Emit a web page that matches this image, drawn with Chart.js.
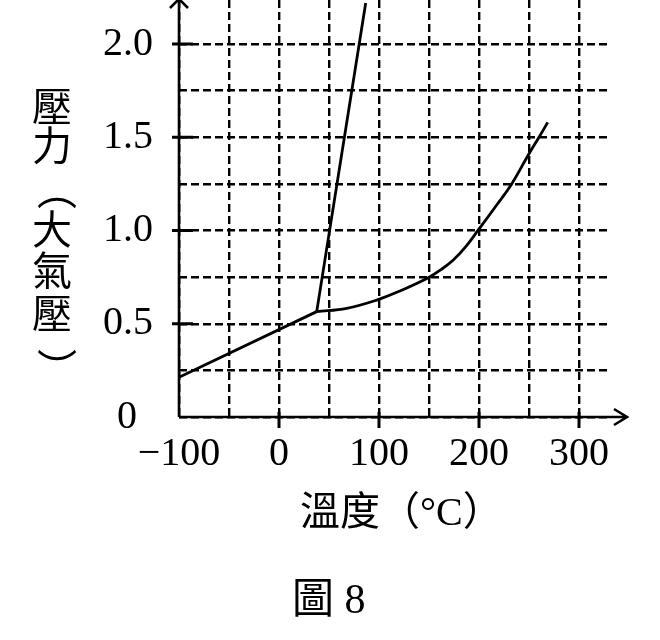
<!DOCTYPE html>
<html>
<head>
<meta charset="utf-8">
<script src="https://cdn.jsdelivr.net/npm/chart.js@4/dist/chart.umd.min.js"></script>
<style>
  body { margin: 0; background: #fff; }
</style>
</head>
<body>
<canvas id="phaseChart" width="660" height="640"></canvas>
<script>
// curves: temperature (°C) and pressure (atm)
const solidGasT = [-100, 37.7];
const solidGasP = [0.213, 0.565];
const solidLiquidT = [37.7, 86.7];
const solidLiquidP = [0.565, 2.22];
const liquidGasT = [37.7, 67.7, 97.7, 121, 149.3, 162, 174.3, 187, 199.3, 217.7, 232.7, 249.3, 260, 268.7];
const liquidGasP = [0.565, 0.583, 0.627, 0.676, 0.747, 0.79, 0.842, 0.915, 1.003, 1.137, 1.25, 1.405, 1.5, 1.58];

// grid lines and tick labels
const xGrid = [-100, -50, 0, 50, 100, 150, 200, 250, 300];
const xLabels = ['\u2212100', '', '0', '', '100', '', '200', '', '300'];
const yGrid = [0, 0.25, 0.5, 0.75, 1.0, 1.25, 1.5, 1.75, 2.0];
const yLabels = ['0\u2009\u2009', '', '0.5', '', '1.0', '', '1.5', '', '2.0'];

const yTitle = ['壓', '力', '（', '大', '氣', '壓', '）'];
const xTitle = '溫度（°C）';
const figTitle = '圖 8';

const FAMILY = '"Liberation Serif", "Noto Sans CJK TC", serif';

function toPoints(t, p) {
    return t.map((v, i) => ({ x: v, y: p[i] }));
}

function curve(t, p, smooth) {
    return {
        data: toPoints(t, p),
        showLine: true,
        borderColor: '#000',
        borderWidth: 2.8,
        pointRadius: 0,
        tension: smooth ? 0.4 : 0
    };
}

// axes with arrows, solid tick stubs and the titles
const frame = {
    id: 'frame',
    afterDraw(chart) {
        const ctx = chart.ctx;
        const xs = chart.scales.x;
        const ys = chart.scales.y;
        const x0 = xs.getPixelForValue(-100);
        const y0 = ys.getPixelForValue(0);
        const xEnd = xs.getPixelForValue(348);
        const yEnd = chart.chartArea.top - 1;

        ctx.save();
        ctx.strokeStyle = '#000';
        ctx.lineWidth = 2.6;
        ctx.setLineDash([]);
        ctx.beginPath();
        ctx.moveTo(x0, y0);
        ctx.lineTo(xEnd, y0);
        ctx.moveTo(x0, y0);
        ctx.lineTo(x0, yEnd);
        ctx.moveTo(xEnd - 13, y0 - 8);
        ctx.lineTo(xEnd, y0);
        ctx.lineTo(xEnd - 13, y0 + 8);
        ctx.moveTo(x0 - 9, yEnd + 9);
        ctx.lineTo(x0, yEnd);
        ctx.lineTo(x0 + 9, yEnd + 9);
        ctx.stroke();

        ctx.lineWidth = 3;
        ctx.beginPath();
        xGrid.forEach((v, i) => {
            if (xLabels[i] === '' || v === -100) return;
            const px = xs.getPixelForValue(v);
            ctx.moveTo(px, y0 - 5);
            ctx.lineTo(px, y0 + 11);
        });
        yGrid.forEach((v, i) => {
            if (yLabels[i] === '' || v === 0) return;
            const py = ys.getPixelForValue(v);
            ctx.moveTo(x0 - 7, py);
            ctx.lineTo(x0 + 14, py);
        });
        ctx.stroke();

        ctx.fillStyle = '#000';
        ctx.font = '40px ' + FAMILY;
        ctx.textBaseline = 'middle';
        ctx.textAlign = 'center';
        const yPos = [110, 149, 190, 233, 274, 317, 368];
        yTitle.forEach((ch, i) => {
            if (ch === '（' || ch === '）') {
                ctx.save();
                ctx.translate(52, yPos[i]);
                ctx.rotate(Math.PI / 2);
                ctx.fillText(ch, 0, 0);
                ctx.restore();
            } else {
                ctx.fillText(ch, 52, yPos[i]);
            }
        });

        ctx.textAlign = 'left';
        ctx.fillText(xTitle, 300, 514);
        ctx.font = '42px ' + FAMILY;
        ctx.fillText(figTitle, 292, 602);
        ctx.restore();
    }
};

new Chart(document.getElementById('phaseChart'), {
    type: 'scatter',
    data: {
        datasets: [
            curve(solidGasT, solidGasP, false),
            curve(solidLiquidT, solidLiquidP, false),
            curve(liquidGasT, liquidGasP, true)
        ]
    },
    options: {
        responsive: false,
        animation: false,
        devicePixelRatio: 1,
        layout: { padding: { top: 0, left: 0, right: 53, bottom: 0 } },
        plugins: {
            legend: { display: false },
            tooltip: { enabled: false }
        },
        scales: {
            x: {
                type: 'linear',
                min: -100,
                max: 328,
                afterBuildTicks: scale => { scale.ticks = xGrid.map(v => ({ value: v })); },
                afterFit: scale => {
                    scale.height = 223;
                    scale.paddingLeft = 0;
                    scale.paddingRight = 0;
                },
                border: { display: false, dash: [8, 4] },
                grid: { color: '#000', lineWidth: 2.4, drawTicks: false },
                ticks: {
                    autoSkip: false,
                    maxRotation: 0,
                    padding: 13,
                    color: '#000',
                    font: { family: FAMILY, size: 40 },
                    callback: (value, index) => xLabels[index]
                }
            },
            y: {
                type: 'linear',
                min: 0,
                max: 2.236,
                afterBuildTicks: scale => { scale.ticks = yGrid.map(v => ({ value: v })); },
                afterFit: scale => {
                    scale.width = 179;
                    scale.paddingTop = 0;
                    scale.paddingBottom = 0;
                },
                border: { display: false, dash: [8, 4] },
                grid: { color: '#000', lineWidth: 2.4, drawTicks: false },
                ticks: {
                    autoSkip: false,
                    padding: 26,
                    color: '#000',
                    font: { family: FAMILY, size: 40 },
                    callback: (value, index) => yLabels[index]
                }
            }
        }
    },
    plugins: [frame]
});
</script>
</body>
</html>
